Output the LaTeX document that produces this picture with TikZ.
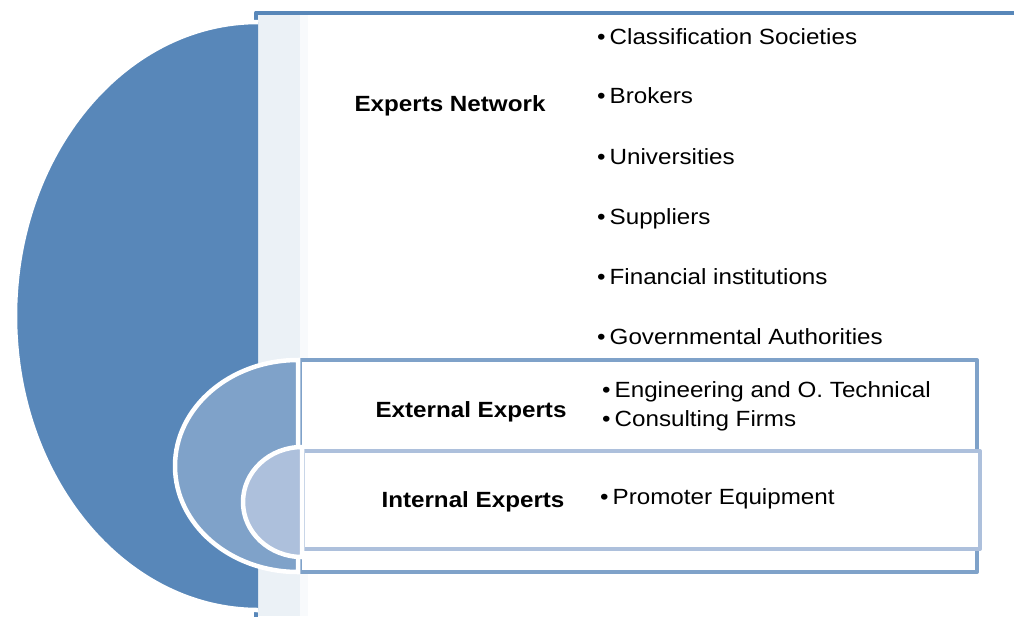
\documentclass[tikz,border=0pt]{standalone}
\usepackage{fontspec}
\setmainfont[FakeStretch=1.1]{Liberation Sans}
\definecolor{blueA}{HTML}{5887B9}
\definecolor{blueB}{HTML}{7FA2C9}
\definecolor{blueC}{HTML}{ADC0DC}
\definecolor{stripC}{HTML}{EBF1F6}

\begin{document}
\begin{tikzpicture}[x=1pt, y=-1pt,
  head/.style={font=\fontsize{22}{26}\selectfont\bfseries, anchor=base, inner sep=0pt},
  item/.style={font=\fontsize{22}{26}\selectfont, anchor=base west, inner sep=0pt},
  frame/.style={fill=white, line width=4pt, line join=round},
  rim/.style={draw=white, line width=4.5pt}
]
  \useasboundingbox (0,0) rectangle (1014,616);

  % outer frame (experts network) + shaded strip
  \draw[frame, draw=blueA] (256,12.5) rectangle (1040,650);
  \fill[stripC] (258,15) rectangle (300,616);
  \fill[blueA!4] (300,15) rectangle (308,616);

  % big half disc
  \fill[blueA] (258,22) arc[start angle=270, end angle=90, x radius=243, y radius=294] -- cycle;
  \draw[rim] (258,22) arc[start angle=270, end angle=90, x radius=243, y radius=294];

  % middle frame + half disc (external experts)
  \draw[frame, draw=blueB] (300,360) rectangle (977,572);
  \draw[rim, fill=blueB] (298,360) arc[start angle=270, end angle=90, x radius=123, y radius=106] -- cycle;

  % inner frame + half disc (internal experts)
  \draw[frame, draw=blueC] (303,451) rectangle (980,549);
  \draw[rim, fill=blueC] (302,447) arc[start angle=270, end angle=90, x radius=59, y radius=55] -- cycle;

  % headings
  \node[head] (experts) at (450,111) {Experts Network};
  \node[head] (external) at (471,417) {External Experts};
  \node[head] (internal) at (473,507) {Internal Experts};

  % experts network items
  \node[item] (n1) at (597,44) {•\hspace{4pt}Classification Societies};
  \node[item] (n2) at (597,103) {•\hspace{4pt}Brokers};
  \node[item] (n3) at (597,164) {•\hspace{4pt}Universities};
  \node[item] (n4) at (597,224) {•\hspace{4pt}Suppliers};
  \node[item] (n5) at (597,284) {•\hspace{4pt}Financial institutions};
  \node[item] (n6) at (597,344) {•\hspace{4pt}Governmental Authorities};

  % external items
  \node[item] (e1) at (602,397) {•\hspace{4pt}Engineering and O. Technical};
  \node[item] (e2) at (602,426) {•\hspace{4pt}Consulting Firms};

  % internal items
  \node[item] (i1) at (600,504) {•\hspace{4pt}Promoter Equipment};
\end{tikzpicture}
\end{document}
